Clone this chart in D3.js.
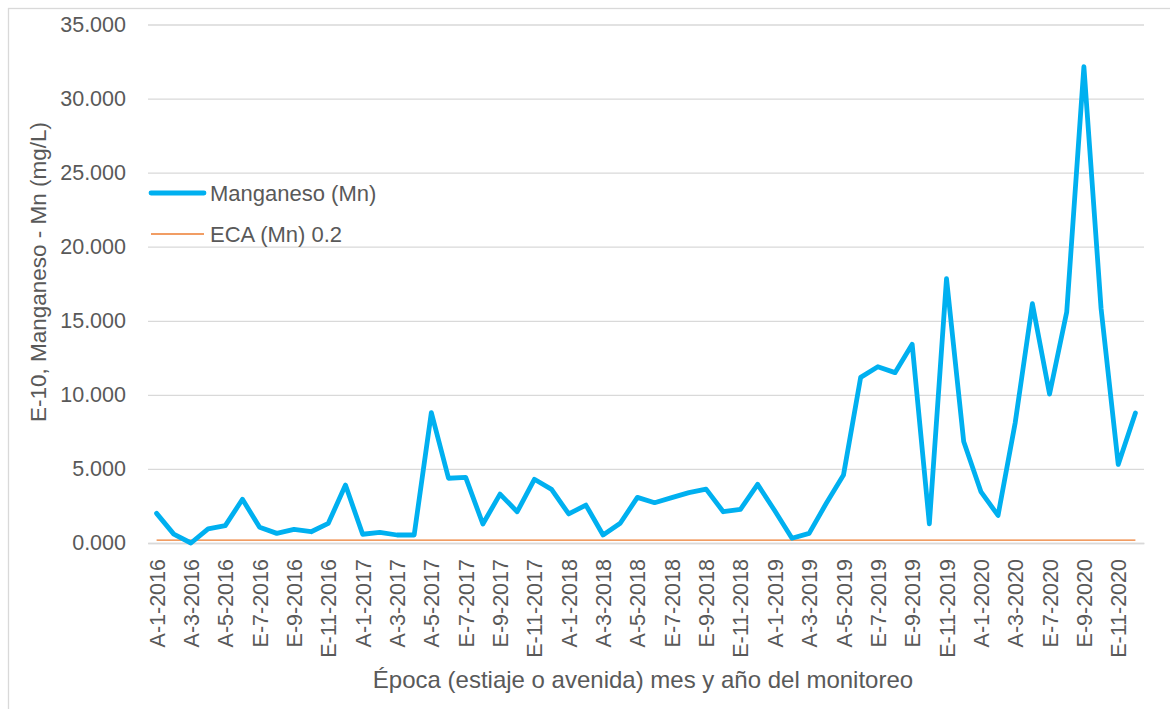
<!DOCTYPE html>
<html>
<head>
<meta charset="utf-8">
<script src="https://cdn.jsdelivr.net/npm/d3@7"></script>
<style>
  body { margin: 0; background: #fff; }
  text { font-family: "Liberation Sans", Arial, sans-serif; fill: #595959; }
</style>
</head>
<body>
<svg id="chart" width="1170" height="709"></svg>
<script>
const months2016to2019 = [1, 2, 3, 4, 5, 6, 7, 8, 9, 10, 11, 12];
const months2020 = [1, 2, 3, 6, 7, 8, 9, 10, 11, 12];
const years = [2016, 2017, 2018, 2019];

const season = (m) => (m <= 5 ? "A" : "E");
const categories = years
  .flatMap((y) => months2016to2019.map((m) => season(m) + "-" + m + "-" + y))
  .concat(months2020.map((m) => season(m) + "-" + m + "-2020"));

const manganeso = [
  2.0, 0.6, 0.0, 0.95, 1.17, 2.95, 1.06, 0.65, 0.92, 0.76, 1.33, 3.91,
  0.59, 0.72, 0.54, 0.54, 8.8, 4.37, 4.43, 1.28, 3.3, 2.11, 4.3, 3.62,
  1.96, 2.56, 0.54, 1.33, 3.08, 2.72, 3.06, 3.4, 3.64, 2.11, 2.27, 3.96,
  2.18, 0.32, 0.65, 2.68, 4.59, 11.18, 11.9, 11.5, 13.42, 1.3, 17.84, 6.85,
  3.47, 1.86, 8.12, 16.15, 10.05, 15.6, 32.15, 15.83, 5.3, 8.77
];
const eca = categories.map(() => 0.2);
const yTicks = [0, 5, 10, 15, 20, 25, 30, 35];

const seriesNames = ["Manganeso (Mn)", "ECA (Mn) 0.2"];
const yTitle = "E-10, Manganeso - Mn (mg/L)";
const xTitle = "Época (estiaje o avenida) mes y año del monitoreo";

const svg = d3.select("#chart");
const plot = { left: 148, right: 1144, top: 24.5, bottom: 543 };
const tickFont = 21.5;

// chart area border (cut by the window on the right and bottom)
svg.append("rect")
  .attr("x", 8.5).attr("y", 8.5)
  .attr("width", 1200).attr("height", 800)
  .attr("fill", "none").attr("stroke", "#D9D9D9").attr("stroke-width", 1.3);

const x = d3.scalePoint()
  .domain(categories)
  .range([plot.left, plot.right])
  .padding(0.5);

const y = d3.scaleLinear()
  .domain([0, 35])
  .range([plot.bottom, plot.top]);

// gridlines + y labels
const yAxis = d3.axisLeft(y)
  .tickValues(yTicks)
  .tickFormat(d3.format(".3f"))
  .tickSize(-(plot.right - plot.left))
  .tickPadding(22);

svg.append("g")
  .attr("transform", "translate(" + plot.left + ",0)")
  .call(yAxis)
  .call((g) => g.select(".domain").remove())
  .call((g) => g.selectAll(".tick line").attr("stroke", "#D9D9D9").attr("stroke-width", 1.3))
  .call((g) => g.selectAll(".tick text")
    .attr("font-size", tickFont)
    .style("font-family", '"Liberation Sans", Arial, sans-serif')
    .attr("fill", "#595959"));

// category axis, every second label shown
const xAxis = d3.axisBottom(x)
  .tickValues(categories.filter((d, i) => i % 2 === 0))
  .tickSize(0);

svg.append("g")
  .attr("transform", "translate(0," + plot.bottom + ")")
  .call(xAxis)
  .call((g) => g.select(".domain").attr("stroke", "#D9D9D9").attr("stroke-width", 1.3))
  .call((g) => g.selectAll(".tick text")
    .attr("font-size", tickFont)
    .style("font-family", '"Liberation Sans", Arial, sans-serif')
    .attr("fill", "#595959")
    .attr("text-anchor", "end")
    .attr("dy", "0.35em")
    .attr("transform", "translate(0,16) rotate(-90)")
    .attr("x", 0).attr("y", 0));

// series
const line = d3.line()
  .x((d, i) => x(categories[i]))
  .y((d) => y(d));

svg.append("path")
  .datum(eca)
  .attr("d", line)
  .attr("fill", "none")
  .attr("stroke", "#ED7D31")
  .attr("stroke-width", 1.3);

svg.append("path")
  .datum(manganeso)
  .attr("d", line)
  .attr("fill", "none")
  .attr("stroke", "#00B0F0")
  .attr("stroke-width", 4.8)
  .attr("stroke-linejoin", "round")
  .attr("stroke-linecap", "round");

// legend
const legend = svg.append("g").attr("transform", "translate(150,193)");
const legendStyles = [
  { color: "#00B0F0", width: 4.8 },
  { color: "#ED7D31", width: 1.3 }
];
seriesNames.forEach((name, i) => {
  const row = legend.append("g").attr("transform", "translate(0," + i * 41 + ")");
  row.append("line")
    .attr("x1", 1).attr("x2", 54)
    .attr("stroke", legendStyles[i].color)
    .attr("stroke-width", legendStyles[i].width)
    .attr("stroke-linecap", i === 0 ? "round" : "butt");
  row.append("text")
    .attr("x", 60).attr("dy", "0.35em")
    .attr("font-size", 22)
    .text(name);
});

// axis titles
svg.append("text")
  .attr("transform", "translate(38,272) rotate(-90)")
  .attr("text-anchor", "middle")
  .attr("dy", "0.35em")
  .attr("font-size", 22.5)
  .text(yTitle);

svg.append("text")
  .attr("x", 643)
  .attr("y", 688)
  .attr("text-anchor", "middle")
  .attr("font-size", 24)
  .text(xTitle);
</script>
</body>
</html>
